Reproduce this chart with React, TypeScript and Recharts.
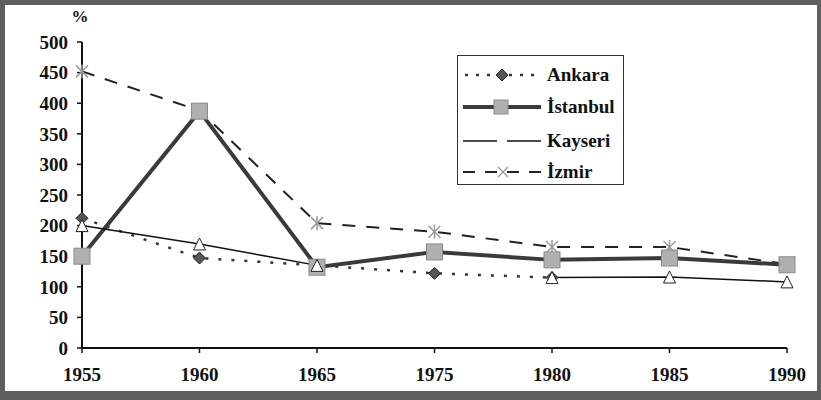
import React from 'react';
import { LineChart, Line, XAxis, YAxis } from 'recharts';

const years = ['1955', '1960', '1965', '1975', '1980', '1985', '1990'];
const ankara = [212, 147, 135, 122, 115, null, null];
const istanbul = [150, 387, 132, 157, 144, 147, 136];
const kayseri = [200, 170, 135, null, 115, 116, 108];
const izmir = [452, 388, 204, 190, 165, 165, 137];
const yTicks = [0, 50, 100, 150, 200, 250, 300, 350, 400, 450, 500];
const seriesNames = ['Ankara', 'İstanbul', 'Kayseri', 'İzmir'];

const data = years.map((y, i) => ({
  year: y,
  ankara: ankara[i],
  istanbul: istanbul[i],
  kayseri: kayseri[i],
  izmir: izmir[i],
}));

const FONT = '"Liberation Serif", "Times New Roman", serif';

const Diamond = (p: any) => {
  const { cx, cy } = p;
  if (cx == null || cy == null || p.value == null) return <g key={p.key} />;
  return (
    <path key={p.key} d={`M${cx},${cy - 6} L${cx + 6},${cy} L${cx},${cy + 6} L${cx - 6},${cy} Z`} fill="#555" stroke="#222" strokeWidth={1} />
  );
};
const Square = (p: any) => {
  const { cx, cy } = p;
  if (cx == null || cy == null || p.value == null) return <g key={p.key} />;
  return <rect key={p.key} x={cx - 8} y={cy - 8} width={16} height={16} fill="#b0b0b0" stroke="#8a8a8a" strokeWidth={1} />;
};
const Triangle = (p: any) => {
  const { cx, cy } = p;
  if (cx == null || cy == null || p.value == null) return <g key={p.key} />;
  return <path key={p.key} d={`M${cx - 6},${cy + 6} L${cx},${cy - 6} L${cx + 6},${cy + 6} Z`} fill="#fff" stroke="#222" strokeWidth={1} />;
};
const Star = (p: any) => {
  const { cx, cy } = p;
  if (cx == null || cy == null || p.value == null) return <g key={p.key} />;
  return (
    <g key={p.key} stroke="#999" strokeWidth={1.5}>
      <line x1={cx - 6} y1={cy - 6} x2={cx + 6} y2={cy + 6} />
      <line x1={cx - 6} y1={cy + 6} x2={cx + 6} y2={cy - 6} />
      <line x1={cx} y1={cy - 7} x2={cx} y2={cy + 7} />
    </g>
  );
};

const samples: Record<string, React.ReactNode> = {
  Ankara: (
    <g>
      <line x1={2} y1={10} x2={76} y2={10} stroke="#333" strokeWidth={2.5} strokeDasharray="3 8" />
      <path d="M39,4 L45,10 L39,16 L33,10 Z" fill="#555" stroke="#222" />
    </g>
  ),
  'İstanbul': (
    <g>
      <line x1={0} y1={10} x2={78} y2={10} stroke="#3a3a3a" strokeWidth={4} />
      <rect x={31} y={3} width={14} height={14} fill="#b0b0b0" stroke="#8a8a8a" />
    </g>
  ),
  Kayseri: (
    <g>
      <line x1={0} y1={10} x2={34} y2={10} stroke="#111" strokeWidth={1.5} />
      <line x1={44} y1={10} x2={78} y2={10} stroke="#111" strokeWidth={1.5} />
    </g>
  ),
  'İzmir': (
    <g>
      <line x1={0} y1={10} x2={78} y2={10} stroke="#222" strokeWidth={2} strokeDasharray="12 10" />
      <g stroke="#999" strokeWidth={1.2}>
        <line x1={35} y1={5} x2={45} y2={15} />
        <line x1={35} y1={15} x2={45} y2={5} />
      </g>
    </g>
  ),
};

const LegendBox = () => (
  <div
    style={{
      position: 'absolute',
      left: 457,
      top: 55,
      width: 167,
      height: 130,
      boxSizing: 'border-box',
      border: '1.5px solid #333',
      background: '#fff',
      padding: '3px 0 0 5px',
      fontFamily: FONT,
      fontWeight: 'bold',
      fontSize: 19,
      color: '#111',
    }}
  >
    {seriesNames.map((n, i) => (
      <div key={n} style={{ display: 'flex', alignItems: 'center', height: i === 1 ? 33 : 31, marginTop: i === 2 ? 2 : 0 }}>
        <svg width={80} height={20} style={{ marginRight: 4 }}>
          {samples[n]}
        </svg>
        <span>{n}</span>
      </div>
    ))}
  </div>
);

export default function App() {
  return (
    <div style={{ position: 'absolute', left: 0, top: 0, width: 821, height: 400, background: '#fff' }}>
      <LineChart width={821} height={400} data={data} margin={{ top: 42, right: 34, bottom: 22, left: 22 }}>
        <XAxis
          dataKey="year"
          type="category"
          padding={{ left: 0, right: 0 }}
          axisLine={{ stroke: '#111', strokeWidth: 2 }}
          tickLine={{ stroke: '#111', strokeWidth: 1.5 }}
          tickSize={5}
          tickMargin={15}
          height={30}
          interval={0}
          tick={{ fill: '#111', fontFamily: FONT, fontWeight: 'bold', fontSize: 19 }}
        />
        <YAxis
          type="number"
          domain={[0, 500]}
          ticks={yTicks}
          interval={0}
          width={60}
          axisLine={{ stroke: '#111', strokeWidth: 2 }}
          tickLine={{ stroke: '#111', strokeWidth: 1.5 }}
          tickSize={5}
          tickMargin={9}
          tick={{ fill: '#111', fontFamily: FONT, fontWeight: 'bold', fontSize: 19 }}
          label={{
            content: (props: any) => {
              const vb = props.viewBox || {};
              return (
                <text x={(vb.x || 0) + (vb.width || 0) - 2} y={(vb.y || 0) - 20} textAnchor="middle" fill="#111" fontFamily={FONT} fontWeight="bold" fontSize={17}>
                  %
                </text>
              );
            },
          }}
        />
        <Line dataKey="izmir" name="İzmir" stroke="#222" strokeWidth={2} strokeDasharray="13 11" dot={Star} activeDot={false} isAnimationActive={false} />
        <Line dataKey="ankara" name="Ankara" stroke="#333" strokeWidth={2.5} strokeDasharray="3 10" dot={Diamond} activeDot={false} isAnimationActive={false} />
        <Line dataKey="istanbul" name="İstanbul" stroke="#3a3a3a" strokeWidth={4} dot={Square} activeDot={false} isAnimationActive={false} />
        <Line dataKey="kayseri" name="Kayseri" stroke="#111" strokeWidth={1.5} dot={Triangle} activeDot={false} isAnimationActive={false} />
      </LineChart>
      <LegendBox />
      <div
        style={{
          position: 'absolute',
          left: 0,
          top: 0,
          width: 821,
          height: 400,
          boxSizing: 'border-box',
          borderStyle: 'solid',
          borderColor: '#5e5e5e',
          borderWidth: '5px 4px 9px 5px',
          pointerEvents: 'none',
        }}
      />
    </div>
  );
}
